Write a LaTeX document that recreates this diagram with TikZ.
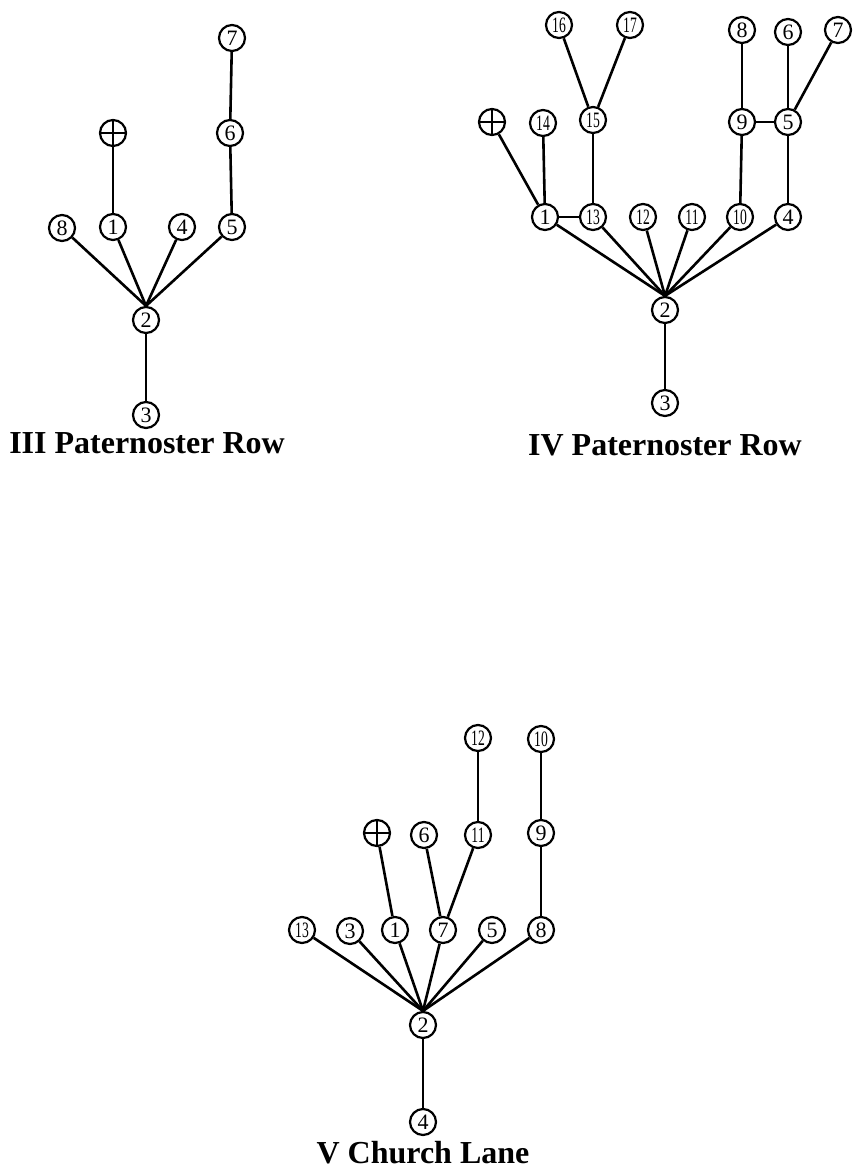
\documentclass[tikz,border=0pt]{standalone}
\usepackage{fontspec}
\usepackage{graphicx}
\setmainfont{Liberation Serif}
\newcommand{\tw}[1]{\scalebox{0.62}[1]{#1}}
\begin{document}
\begin{tikzpicture}[x=1pt,y=-1pt,
  nd/.style={circle,draw,line width=2.2pt,minimum size=26pt,inner sep=0pt,font=\fontsize{22}{22}\selectfont},
  crossnd/.style={circle,draw,line width=2.2pt,minimum size=26pt,inner sep=0pt,
    path picture={\draw[line width=2.2pt] (path picture bounding box.north) -- (path picture bounding box.south)
      (path picture bounding box.west) -- (path picture bounding box.east);}},
  ln/.style={line width=2.6pt},
  ttl/.style={font=\fontsize{32}{32}\selectfont\bfseries}]
\useasboundingbox (0,0) rectangle (854,1175);
% ---------- III Paternoster Row ----------
\node[nd] (a7) at (232,38) {7};
\node[nd] (a6) at (230,133) {6};
\node[crossnd] (ax) at (113,133) {};
\node[nd] (a8) at (62,228) {8};
\node[nd] (a1) at (113,227) {1};
\node[nd] (a4) at (182,227) {4};
\node[nd] (a5) at (232,227) {5};
\node[nd] (a2) at (146,320) {2};
\node[nd] (a3) at (146,415) {3};
\node[ttl] (at) at (147,443) {III Paternoster Row};
\draw[ln] (a7) -- (a6);
\draw[ln] (a6) -- (a5);
\draw[ln] (ax) -- (a1);
\foreach \n in {a8,a1,a4,a5} \draw[ln] (\n) -- (a2.north);
\draw[ln] (a2) -- (a3);
% ---------- IV Paternoster Row ----------
\node[nd] (b16) at (559,25) {\tw{16}};
\node[nd] (b17) at (630,25) {\tw{17}};
\node[nd] (b8) at (742,30) {8};
\node[nd] (b6) at (788,32) {6};
\node[nd] (b7) at (838,30) {7};
\node[crossnd] (bx) at (492,122) {};
\node[nd] (b14) at (543,123) {\tw{14}};
\node[nd] (b15) at (593,120) {\tw{15}};
\node[nd] (b9) at (742,122) {9};
\node[nd] (b5) at (788,122) {5};
\node[nd] (b1) at (545,217) {1};
\node[nd] (b13) at (593,217) {\tw{13}};
\node[nd] (b12) at (643,217) {\tw{12}};
\node[nd] (b11) at (692,217) {\tw{11}};
\node[nd] (b10) at (740,217) {\tw{10}};
\node[nd] (b4) at (788,217) {4};
\node[nd] (b2) at (665,310) {2};
\node[nd] (b3) at (665,403) {3};
\node[ttl] (bt) at (665,445) {IV Paternoster Row};
\draw[ln] (b16) -- (b15);
\draw[ln] (b17) -- (b15);
\draw[ln] (b15) -- (b13);
\draw[ln] (bx) -- (b1);
\draw[ln] (b14) -- (b1);
\draw[ln] (b1) -- (b13);
\draw[ln] (b8) -- (b9);
\draw[ln] (b9) -- (b5);
\draw[ln] (b6) -- (b5);
\draw[ln] (b7) -- (b5);
\draw[ln] (b9) -- (b10);
\draw[ln] (b5) -- (b4);
\foreach \n in {b1,b13,b12,b11,b10,b4} \draw[ln] (\n) -- (b2.north);
\draw[ln] (b2) -- (b3);
% ---------- V Church Lane ----------
\node[nd] (c12) at (478,738) {\tw{12}};
\node[nd] (c10) at (541,739) {\tw{10}};
\node[crossnd] (cx) at (377,833) {};
\node[nd] (c6) at (424,835) {6};
\node[nd] (c11) at (478,835) {\tw{11}};
\node[nd] (c9) at (541,833) {9};
\node[nd] (c13) at (302,930) {\tw{13}};
\node[nd] (c3) at (350,931) {3};
\node[nd] (c1) at (395,930) {1};
\node[nd] (c7) at (443,930) {7};
\node[nd] (c5) at (492,930) {5};
\node[nd] (c8) at (541,930) {8};
\node[nd] (c2) at (423,1025) {2};
\node[nd] (c4) at (423,1122) {4};
\node[ttl] (ct) at (423,1153) {V Church Lane};
\draw[ln] (c12) -- (c11);
\draw[ln] (c10) -- (c9);
\draw[ln] (c9) -- (c8);
\draw[ln] (cx) -- (c1);
\draw[ln] (c6) -- (c7);
\draw[ln] (c11) -- (c7);
\foreach \n in {c13,c3,c1,c7,c5,c8} \draw[ln] (\n) -- (c2.north);
\draw[ln] (c2) -- (c4);
\end{tikzpicture}
\end{document}
